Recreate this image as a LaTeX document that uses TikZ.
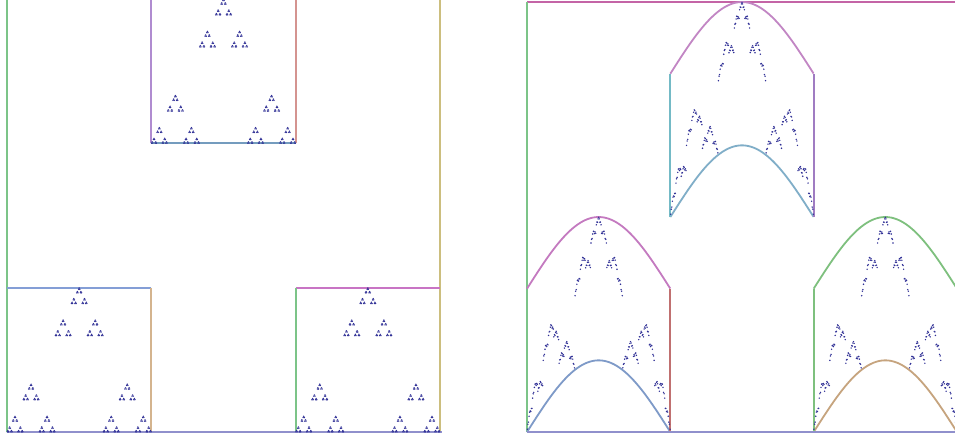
\documentclass[tikz,border=0pt]{standalone}
\definecolor{cgreen}{HTML}{7CC488}
\definecolor{ckhaki}{HTML}{CCBE7E}
\definecolor{cbase}{HTML}{9090CC}
\definecolor{cpurple}{HTML}{B08CD0}
\definecolor{crose}{HTML}{D49490}
\definecolor{csteel}{HTML}{749CBE}
\definecolor{cblue}{HTML}{849ED6}
\definecolor{ctan}{HTML}{D4B48E}
\definecolor{corchid}{HTML}{C874C4}
\definecolor{cmagenta}{HTML}{C464A6}
\definecolor{cmauve}{HTML}{C286C4}
\definecolor{cteal}{HTML}{74BAC6}
\definecolor{cviolet}{HTML}{A07CC2}
\definecolor{clblue}{HTML}{80AEC8}
\definecolor{cpink}{HTML}{C47AC0}
\definecolor{cred}{HTML}{C07070}
\definecolor{cgblue}{HTML}{7E9AC8}
\definecolor{cagreen}{HTML}{7EC07E}
\definecolor{cbrown}{HTML}{C6A47E}
\definecolor{dotc}{HTML}{303096}
\tikzset{bordline/.style={line width=1.8pt},
  dotmark/.style={fill=dotc}}
\newcommand\ifsmap[5]{%
  \pgfmathsetmacro#4{#2/3+#1/3}%
  \pgfmathsetmacro#5{#3/3+(#1==1)*\btop+\curv*sin(180*#2)/6}}
\newcommand\ifsdots{%
\foreach \qa in {0,1,2}{\ifsmap{\qa}{0.5}{0.4}{\xa}{\ya}
 \foreach \qb in {0,1,2}{\ifsmap{\qb}{\xa}{\ya}{\xb}{\yb}
  \foreach \qc in {0,1,2}{\ifsmap{\qc}{\xb}{\yb}{\xc}{\yc}
   \foreach \qd in {0,1,2}{\ifsmap{\qd}{\xc}{\yc}{\xd}{\yd}
    \foreach \qe in {0,1,2}{\ifsmap{\qe}{\xd}{\yd}{\xe}{\ye}
     \foreach \qg in {0,1,2}{\ifsmap{\qg}{\xe}{\ye}{\xf}{\yf}
      \fill[dotmark] (\xf,\yf) circle[radius=0.8pt];
}}}}}}}
\begin{document}
\begin{tikzpicture}[x=1pt,y=-1pt]
\useasboundingbox (0,0) rectangle (955,440);
\clip (0,0) rectangle (955,440);
\fill[white] (0,0) rectangle (955,440);
% ---------- left panel ----------
\begin{scope}[shift={(7,432)},x=433pt,y=433pt]
  \draw[bordline,cgreen] (0,0) -- (0,1.01);
  \draw[bordline,ckhaki] (1,0) -- (1,1.01);
  % top middle square
  \draw[bordline,cpurple] (1/3,2/3) -- (1/3,1.01);
  \draw[bordline,crose] (2/3,2/3) -- (2/3,1.01);
  \draw[bordline,csteel] (1/3,2/3) -- (2/3,2/3);
  % bottom left square
  \draw[bordline,cblue] (0,1/3) -- (1/3,1/3);
  \draw[bordline,ctan] (1/3,1/3) -- (1/3,0);
  % bottom right square
  \draw[bordline,corchid] (2/3,1/3) -- (1,1/3);
  \draw[bordline,cgreen] (2/3,1/3) -- (2/3,0);
  \draw[bordline,cbase] (0,0) -- (1.005,0);
  \def\btop{0.6666667}\def\curv{0}
  \ifsdots
\end{scope}
% ---------- right panel ----------
\begin{scope}[shift={(527,432)},x=430pt,y=430pt]
  \draw[bordline,cmagenta] (0,1) -- (1,1);
  \draw[bordline,cgreen] (0,0) -- (0,1);
  % top middle piece
  \draw[bordline,cmauve] plot[domain=0:1,samples=60,smooth] ({1/3+\x/3},{5/6+sin(180*\x)/6});
  \draw[bordline,clblue] plot[domain=0:1,samples=60,smooth] ({1/3+\x/3},{1/2+sin(180*\x)/6});
  \draw[bordline,cteal] (1/3,1/2) -- (1/3,5/6);
  \draw[bordline,cviolet] (2/3,1/2) -- (2/3,5/6);
  % bottom left piece
  \draw[bordline,cpink] plot[domain=0:1,samples=60,smooth] ({\x/3},{1/3+sin(180*\x)/6});
  \draw[bordline,cgblue] plot[domain=0:1,samples=60,smooth] ({\x/3},{sin(180*\x)/6});
  \draw[bordline,cred] (1/3,0) -- (1/3,1/3);
  % bottom right piece
  \draw[bordline,cagreen] plot[domain=0:1,samples=60,smooth] ({2/3+\x/3},{1/3+sin(180*\x)/6});
  \draw[bordline,cbrown] plot[domain=0:1,samples=60,smooth] ({2/3+\x/3},{sin(180*\x)/6});
  \draw[bordline,cagreen] (2/3,0) -- (2/3,1/3);
  \draw[bordline,cbase] (0,0) -- (1,0);
  \def\btop{0.5}\def\curv{1}
  \ifsdots
\end{scope}
\end{tikzpicture}
\end{document}
